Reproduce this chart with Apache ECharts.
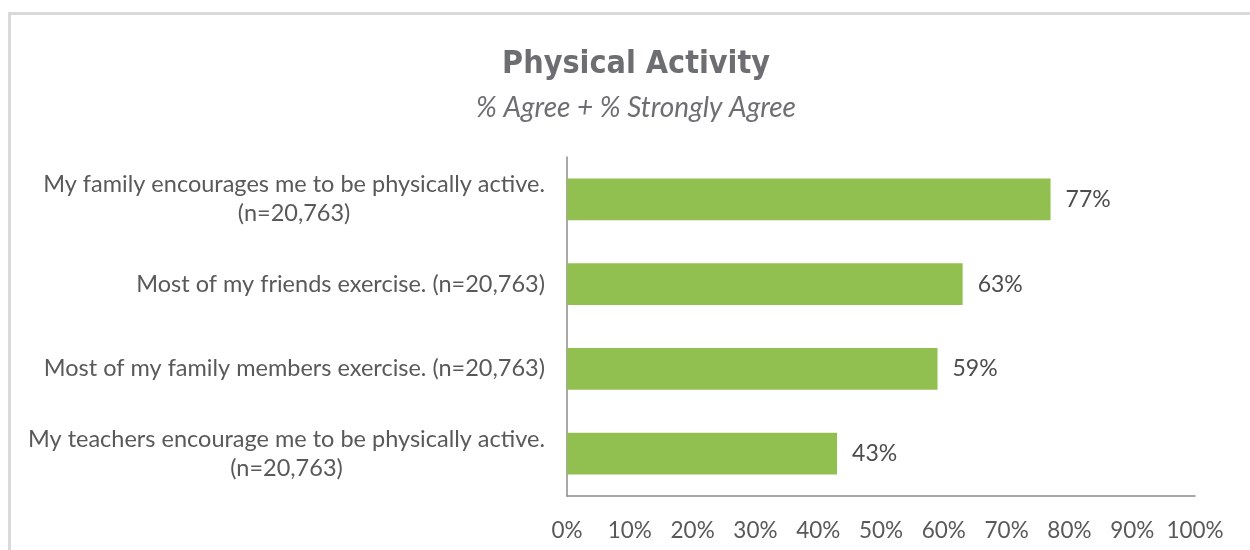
<!DOCTYPE html>
<html>
<head>
<meta charset="utf-8">
<title>Physical Activity</title>
<script src="https://cdn.jsdelivr.net/npm/echarts@6/dist/echarts.min.js"></script>
<style>
  html, body { margin: 0; padding: 0; background: #ffffff; }
  #chart { width: 1250px; height: 550px; }
</style>
</head>
<body>
<div id="chart"></div>
<script>
// data
var categories = [
  'My family encourages me to be physically active.\n(n=20,763)',
  'Most of my friends exercise. (n=20,763)',
  'Most of my family members exercise. (n=20,763)',
  'My teachers encourage me to be physically active.\n(n=20,763)'
]
var agreePct = [77, 63, 59, 43]
var xTicks = { min: 0, max: 100, step: 10 }

var chart = echarts.init(document.getElementById('chart'))

// two-line labels: first line right aligned, second centered under it
function catLabel(value) {
  var parts = value.split('\n')
  if (parts.length === 1) return '{a|' + parts[0] + '}'
  return '{a|' + parts[0] + '}\n{b|' + parts[1] + '}'
}

var option = {
  backgroundColor: '#ffffff',
  animation: false,
  graphic: [
    {
      type: 'rect',
      left: 7,
      top: 11,
      shape: { width: 1300, height: 600 },
      style: { fill: 'none', stroke: '#d9d9d9', lineWidth: 3 },
      silent: true
    }
  ],
  title: [
    {
      text: 'Physical Activity',
      left: 631,
      textAlign: 'center',
      top: 44,
      textStyle: {
        fontFamily: '"DejaVu Sans Condensed", "DejaVu Sans", sans-serif',
        fontWeight: 'bold',
        fontSize: 32,
        color: '#6d6e71'
      }
    },
    {
      text: '% Agree + % Strongly Agree',
      left: 631,
      textAlign: 'center',
      top: 89,
      textStyle: {
        fontFamily: 'Lato, sans-serif',
        fontStyle: 'italic',
        fontWeight: 'normal',
        fontSize: 28,
        color: '#6d6e71'
      }
    }
  ],
  grid: {
    left: 567,
    right: 55,
    top: 157,
    bottom: 54,
    containLabel: false
  },
  xAxis: {
    type: 'value',
    min: xTicks.min,
    max: xTicks.max,
    interval: xTicks.step,
    axisLine: { show: true, lineStyle: { color: '#8c8c8c', width: 1.5 } },
    axisTick: { show: false },
    splitLine: { show: false },
    axisLabel: {
      formatter: '{value}%',
      margin: 23,
      fontFamily: 'Lato, sans-serif',
      fontSize: 22.5,
      color: '#595959'
    }
  },
  yAxis: {
    type: 'category',
    inverse: true,
    data: categories,
    axisLine: { show: true, lineStyle: { color: '#8c8c8c', width: 1.5 } },
    axisTick: { show: false },
    axisLabel: {
      margin: 22,
      formatter: catLabel,
      rich: {
        a: {
          fontFamily: 'Lato, sans-serif',
          fontSize: 23.5,
          color: '#595959',
          lineHeight: 29,
          align: 'right'
        },
        b: {
          fontFamily: 'Lato, sans-serif',
          fontSize: 23.5,
          color: '#595959',
          lineHeight: 29,
          align: 'center'
        }
      }
    }
  },
  series: [
    {
      name: '% Agree + % Strongly Agree',
      type: 'bar',
      data: agreePct,
      barWidth: '49%',
      itemStyle: { color: '#92c050' },
      label: {
        show: true,
        position: 'right',
        distance: 15,
        formatter: '{c}%',
        fontFamily: 'Lato, sans-serif',
        fontSize: 23,
        color: '#4d4d4d'
      }
    }
  ]
}

chart.setOption(option)
</script>
</body>
</html>
